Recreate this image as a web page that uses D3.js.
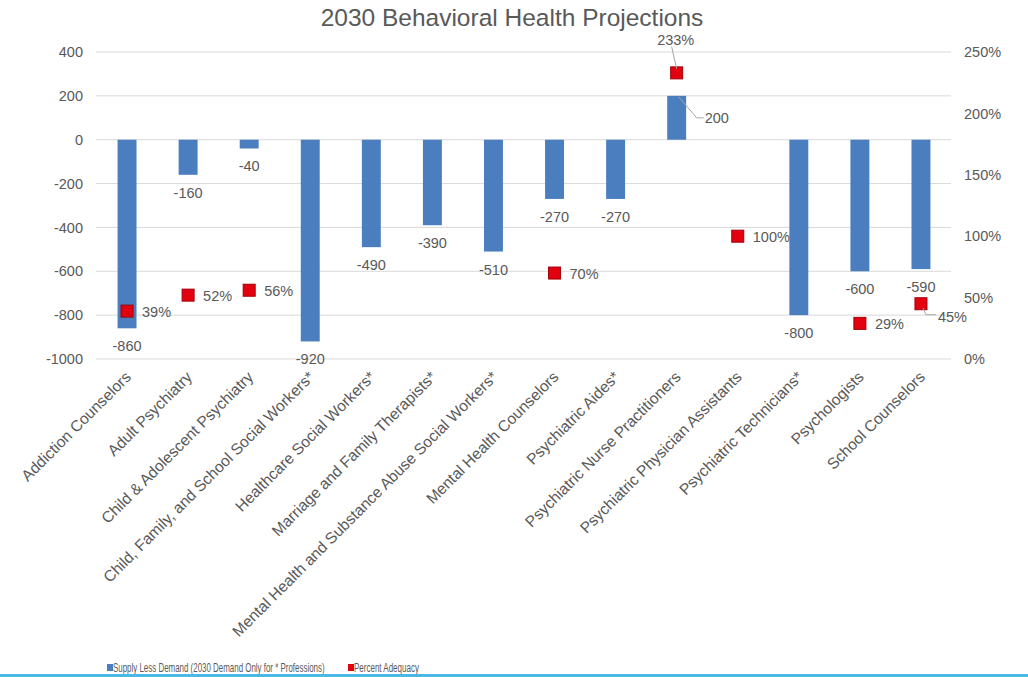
<!DOCTYPE html>
<html>
<head>
<meta charset="utf-8">
<script src="https://cdn.jsdelivr.net/npm/d3@7"></script>
<style>
  body { margin: 0; background: #fff; }
  text { font-family: "Liberation Sans", Arial, sans-serif; fill: #595959; }
</style>
</head>
<body>
<div id="chart"></div>
<script>
var categories = [
  "Addiction Counselors",
  "Adult Psychiatry",
  "Child & Adolescent Psychiatry",
  "Child, Family, and School Social Workers*",
  "Healthcare Social Workers*",
  "Marriage and Family Therapists*",
  "Mental Health and Substance Abuse Social Workers*",
  "Mental Health Counselors",
  "Psychiatric Aides*",
  "Psychiatric Nurse Practitioners",
  "Psychiatric Physician Assistants",
  "Psychiatric Technicians*",
  "Psychologists",
  "School Counselors"
];
var supplyLessDemand = [-860, -160, -40, -920, -490, -390, -510, -270, -270, 200, null, -800, -600, -590];
// null = no marker for the * professions
var percentAdequacy = [0.39, 0.52, 0.56, null, null, null, null, 0.70, null, 2.33, 1.00, null, 0.29, 0.45];
var leftTicks = [400, 200, 0, -200, -400, -600, -800, -1000];
var rightTicks = [0, 0.5, 1, 1.5, 2, 2.5];

var width = 1028;
var height = 677;
var barColor = "#4a7ebf";
var markColor = "#e3000f";

var svg = d3
  .select("#chart")
  .append("svg")
  .attr("width", width)
  .attr("height", height);

var x = d3
  .scaleBand()
  .domain(categories)
  .range([96.5, 951.5])
  .paddingInner(0.69)
  .paddingOuter(0.345);

var y = d3.scaleLinear().domain([-1000, 400]).range([359, 52]);
var y2 = d3.scaleLinear().domain([0, 2.5]).range([359, 52]);

// title
svg
  .append("text")
  .attr("x", 512)
  .attr("y", 26)
  .attr("text-anchor", "middle")
  .style("font-size", "24.5px")
  .text("2030 Behavioral Health Projections");

// gridlines
svg
  .append("g")
  .selectAll("line")
  .data(leftTicks)
  .enter()
  .append("line")
  .attr("x1", 96)
  .attr("x2", 951)
  .attr("y1", d => y(d))
  .attr("y2", d => y(d))
  .attr("stroke", "#d9d9d9")
  .attr("stroke-width", 1);

// left axis
var leftAxis = svg
  .append("g")
  .attr("transform", "translate(83,0)")
  .call(
    d3
      .axisLeft(y)
      .tickValues(leftTicks)
      .tickSize(0)
      .tickPadding(0)
      .tickFormat(d => String(d))
  );
leftAxis.select(".domain").remove();
leftAxis.selectAll("text").style("font-size", "14.5px").attr("fill", "#595959");

// right axis
var rightAxis = svg
  .append("g")
  .attr("transform", "translate(964,0)")
  .call(
    d3
      .axisRight(y2)
      .tickValues(rightTicks)
      .tickSize(0)
      .tickPadding(0)
      .tickFormat(d3.format(".0%"))
  );
rightAxis.select(".domain").remove();
rightAxis.selectAll("text").style("font-size", "14.5px").attr("fill", "#595959");

var rows = categories.map(function(c, i) {
  return { name: c, value: supplyLessDemand[i], pct: percentAdequacy[i], i: i };
});

// bars
svg
  .append("g")
  .selectAll("rect")
  .data(rows.filter(d => d.value !== null))
  .enter()
  .append("rect")
  .attr("x", d => x(d.name))
  .attr("width", x.bandwidth())
  .attr("y", d => Math.min(y(0), y(d.value)))
  .attr("height", d => Math.abs(y(d.value) - y(0)))
  .attr("fill", barColor);

// bar labels
var cx = d => x(d.name) + x.bandwidth() / 2;
svg
  .append("g")
  .selectAll("text")
  .data(rows.filter(d => d.value !== null && d.value < 0))
  .enter()
  .append("text")
  .attr("x", cx)
  .attr("y", d => y(d.value) + 23)
  .attr("text-anchor", "middle")
  .style("font-size", "14.5px")
  .text(d => d.value);

// the positive bar gets a leader line
rows
  .filter(d => d.value > 0)
  .forEach(function(d) {
    var top = y(d.value);
    svg
      .append("polyline")
      .attr("points", [[cx(d) + 2, top + 1], [cx(d) + 20, top + 22], [cx(d) + 27, top + 22]].join(" "))
      .attr("fill", "none")
      .attr("stroke", "#a6a6a6");
    svg
      .append("text")
      .attr("x", cx(d) + 28)
      .attr("y", top + 27)
      .style("font-size", "14.5px")
      .text(d.value);
  });

// markers
var marks = rows.filter(d => d.pct !== null);
svg
  .append("g")
  .selectAll("rect")
  .data(marks)
  .enter()
  .append("rect")
  .attr("x", d => cx(d) - 6)
  .attr("y", d => y2(d.pct) - 6)
  .attr("width", 12)
  .attr("height", 12)
  .attr("fill", markColor)
  .attr("stroke", "#a0000a")
  .attr("stroke-width", 1);

// marker labels, most sit on the right
var pctFmt = d3.format(".0%");
marks.forEach(function(d) {
  var px = cx(d);
  var py = y2(d.pct);
  if (d.pct > 2) {
    // label above with a leader
    svg
      .append("line")
      .attr("x1", px - 5)
      .attr("y1", py - 26)
      .attr("x2", px)
      .attr("y2", py - 4)
      .attr("stroke", "#a6a6a6");
    svg
      .append("text")
      .attr("x", px - 1)
      .attr("y", py - 28)
      .attr("text-anchor", "middle")
      .style("font-size", "14.5px")
      .text(pctFmt(d.pct));
  } else if (d.i === categories.length - 1) {
    // last one: pushed down right
    svg
      .append("polyline")
      .attr("points", [[px + 2, py + 4], [px + 5, py + 11], [px + 15, py + 11]].join(" "))
      .attr("fill", "none")
      .attr("stroke", "#a6a6a6");
    svg
      .append("text")
      .attr("x", px + 17)
      .attr("y", py + 18)
      .style("font-size", "14.5px")
      .text(pctFmt(d.pct));
  } else {
    svg
      .append("text")
      .attr("x", px + 15)
      .attr("y", py + 6)
      .style("font-size", "14.5px")
      .text(pctFmt(d.pct));
  }
});

// category labels, rotated
svg
  .append("g")
  .selectAll("text")
  .data(rows)
  .enter()
  .append("text")
  .attr("transform", d => `translate(${cx(d) + 5},${378}) rotate(-45)`)
  .attr("text-anchor", "end")
  .style("font-size", "15.6px")
  .text(d => d.name);

// legend, the text is squeezed sideways like the original
var legend = svg.append("g").attr("transform", "translate(107,664)");

function legendItem(x0, color, label, w) {
  legend
    .append("rect")
    .attr("x", x0)
    .attr("width", 6)
    .attr("height", 7)
    .attr("fill", color);
  var t = legend
    .append("text")
    .attr("y", 8)
    .style("font-size", "12px")
    .text(label);
  var k = w / t.node().getComputedTextLength();
  t.attr("transform", `translate(${x0 + 6},0) scale(${k},1)`);
}
legendItem(0, barColor, "Supply Less Demand (2030 Demand Only for * Professions)", 212);
legendItem(241, markColor, "Percent Adequacy", 65);

// the blue rule along the bottom
svg
  .append("line")
  .attr("x1", 0)
  .attr("x2", width)
  .attr("y1", 675.5)
  .attr("y2", 675.5)
  .attr("stroke", "#4cb8e6")
  .attr("stroke-width", 3);
</script>
</body>
</html>
